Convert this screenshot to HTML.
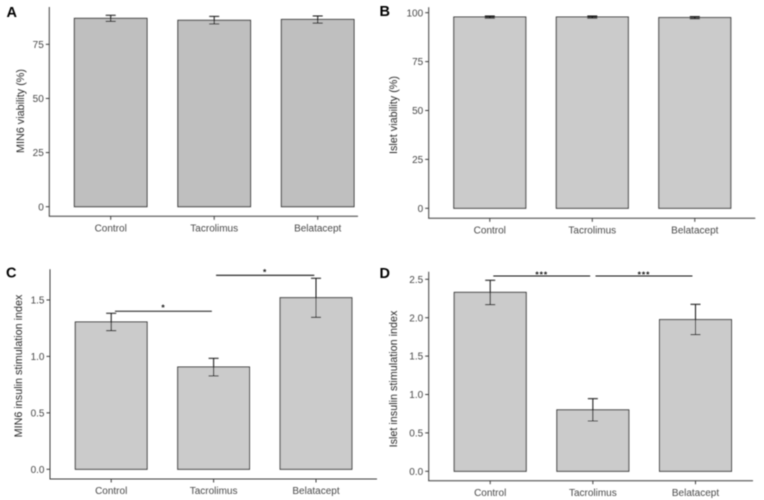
<!DOCTYPE html>
<html>
<head>
<meta charset="utf-8">
<title>Viability and insulin stimulation index</title>
<style>
html,body{margin:0;padding:0;background:#fff;}
body{width:764px;height:500px;overflow:hidden;}
svg{display:block;font-family:"Liberation Sans",sans-serif;}
.tick{font-size:10px;fill:#484848;}
.title{font-size:10.8px;fill:#2a2a2a;}
.letter{font-size:14.5px;font-weight:bold;fill:#000;}
.star{font-size:8.5px;font-weight:bold;fill:#111;letter-spacing:0.9px;}
</style>
</head>
<body>
<svg id="figure" width="764" height="500" viewBox="0 0 764 500" xmlns="http://www.w3.org/2000/svg">
  <defs><filter id="soft" x="-2%" y="-2%" width="104%" height="104%"><feGaussianBlur stdDeviation="0.4"/></filter></defs>
  <g id="plots" filter="url(#soft)">
    <text class="letter" x="6.5" y="17">A</text>
    <text class="letter" x="379.5" y="16">B</text>
    <text class="letter" x="6" y="277.5">C</text>
    <text class="letter" x="379.5" y="278">D</text>
  </g>
</svg>
<script>
const categories = ['Control', 'Tacrolimus', 'Belatacept'];

const viabilityMin6 = [87, 86.1, 86.5];
const viabilityMin6Low = [85.6, 84.4, 84.8];
const viabilityMin6High = [88.4, 87.9, 88.1];
const viabilityMin6Ticks = [0, 25, 50, 75];
const viabilityMin6TickLabels = ['0', '25', '50', '75'];

const viabilityIslet = [97.8, 97.8, 97.5];
const viabilityIsletLow = [97.2, 97.2, 96.9];
const viabilityIsletHigh = [98.3, 98.3, 98.0];
const viabilityIsletTicks = [0, 25, 50, 75, 100];
const viabilityIsletTickLabels = ['0', '25', '50', '75', '100'];

const stimMin6 = [1.305, 0.906, 1.52];
const stimMin6Low = [1.228, 0.827, 1.346];
const stimMin6High = [1.382, 0.983, 1.692];
const stimMin6Ticks = [0, 0.5, 1, 1.5];
const stimMin6TickLabels = ['0.0', '0.5', '1.0', '1.5'];
const stimMin6BracketFrom = [0.037, 1.024];
const stimMin6BracketTo = [0.983, 1.983];
const stimMin6BracketLevel = [1.40, 1.718];
const stimMin6BracketMark = ['*', '*'];

const stimIslet = [2.33, 0.8, 1.975];
const stimIsletLow = [2.17, 0.655, 1.78];
const stimIsletHigh = [2.487, 0.946, 2.174];
const stimIsletTicks = [0, 0.5, 1, 1.5, 2, 2.5];
const stimIsletTickLabels = ['0.0', '0.5', '1.0', '1.5', '2.0', '2.5'];
const stimIsletBracketFrom = [0.03, 1.026];
const stimIsletBracketTo = [0.974, 1.97];
const stimIsletBracketLevel = [2.543, 2.543];
const stimIsletBracketMark = ['***', '***'];

const NS = 'http://www.w3.org/2000/svg';
const root = document.getElementById('plots');

function make(tag, attrs, parent) {
  const node = document.createElementNS(NS, tag);
  for (const k in attrs) node.setAttribute(k, attrs[k]);
  parent.appendChild(node);
  return node;
}

function drawPanel(p) {
  const xScale = function (i) { return p.x0 + i * p.band; };
  const yScale = function (v) { return p.zeroY - v * p.unit; };

  const g = make('g', {}, root);
  
  

  const yAxis = make('line', { x1: p.left, x2: p.left, y1: p.top, y2: p.bottom, stroke: '#3c3c3c', 'stroke-width': 1 }, g);
  
  

  const xAxis = make('line', { x1: p.left - 0.5, x2: p.right, y1: p.bottom, y2: p.bottom, stroke: '#3c3c3c', 'stroke-width': 1 }, g);
  
  

  const yTitle = make('text', { class: 'title', 'text-anchor': 'middle', transform: 'translate(' + p.titleX + ',' + p.titleY + ') rotate(-90)' }, g);
  yTitle.textContent = p.title;
  
  

  p.ticks.forEach(function (t, i) {
    const tick = make('line', { x1: p.left - 3.5, x2: p.left, y1: yScale(t), y2: yScale(t), stroke: '#3c3c3c', 'stroke-width': 1 }, g);
    
    
    const label = make('text', { class: 'tick', x: p.left - 5.5, y: yScale(t) + 3.6, 'text-anchor': 'end' }, g);
    label.textContent = p.tickLabels[i];
    
    
  });

  categories.forEach(function (c, i) {
    const cx = xScale(i);
    const bar = make('rect', { x: cx - p.barW / 2, y: yScale(p.values[i]), width: p.barW, height: p.values[i] * p.unit, fill: p.fill, stroke: '#303030', 'stroke-width': 1 }, g);
    
    

    const stem = make('line', { x1: cx, x2: cx, y1: yScale(p.high[i]), y2: yScale(p.low[i]), stroke: '#111', 'stroke-width': 1 }, g);
    
    
    const capTop = make('line', { x1: cx - 5, x2: cx + 5, y1: yScale(p.high[i]), y2: yScale(p.high[i]), stroke: '#111', 'stroke-width': 1 }, g);
    
    
    const capLow = make('line', { x1: cx - 5, x2: cx + 5, y1: yScale(p.low[i]), y2: yScale(p.low[i]), stroke: '#111', 'stroke-width': 1 }, g);
    
    

    const xTick = make('line', { x1: cx, x2: cx, y1: p.bottom, y2: p.bottom + 3.5, stroke: '#3c3c3c', 'stroke-width': 1 }, g);
    
    
    const xLabel = make('text', { class: 'tick', x: cx, y: p.bottom + 15.2, 'text-anchor': 'middle' }, g);
    xLabel.textContent = c;
    
    
  });

  (p.bracketLevel || []).forEach(function (lvl, i) {
    const x1 = xScale(p.bracketFrom[i]);
    const x2 = xScale(p.bracketTo[i]);
    const bracket = make('line', { x1: x1, x2: x2, y1: yScale(lvl), y2: yScale(lvl), stroke: '#111', 'stroke-width': 1.1 }, g);
    
    
    const star = make('text', { class: 'star', x: (x1 + x2) / 2, y: yScale(lvl) + p.starShift, 'text-anchor': 'middle' }, g);
    star.textContent = p.bracketMark[i];
    
    
  });
}

drawPanel({
  id: 'a', title: 'MIN6 viability (%)', titleX: 24, titleY: 111,
  left: 49.3, right: 358, top: 7, bottom: 216.3,
  x0: 110.7, band: 103.5, barW: 72.7, zeroY: 206.7, unit: 2.165, fill: '#bfbfbf',
  values: viabilityMin6, low: viabilityMin6Low, high: viabilityMin6High,
  ticks: viabilityMin6Ticks, tickLabels: viabilityMin6TickLabels
});
drawPanel({
  id: 'b', title: 'Islet viability (%)', titleX: 397, titleY: 115,
  left: 428.7, right: 755.3, top: 7.3, bottom: 218.3,
  x0: 489.8, band: 102.5, barW: 72, zeroY: 208.3, unit: 1.956, fill: '#cbcbcb',
  values: viabilityIslet, low: viabilityIsletLow, high: viabilityIsletHigh,
  ticks: viabilityIsletTicks, tickLabels: viabilityIsletTickLabels
});
drawPanel({
  id: 'c', title: 'MIN6 insulin stimulation index', titleX: 22, titleY: 366,
  left: 50, right: 377, top: 269.3, bottom: 479,
  x0: 111.2, band: 102.4, barW: 71.8, zeroY: 469.3, unit: 112.9, fill: '#cbcbcb',
  values: stimMin6, low: stimMin6Low, high: stimMin6High,
  ticks: stimMin6Ticks, tickLabels: stimMin6TickLabels,
  bracketFrom: stimMin6BracketFrom, bracketTo: stimMin6BracketTo,
  bracketLevel: stimMin6BracketLevel, bracketMark: stimMin6BracketMark, starShift: -0.5
});
drawPanel({
  id: 'd', title: 'Islet insulin stimulation index', titleX: 397, titleY: 379,
  left: 428.7, right: 753, top: 271.7, bottom: 480.7,
  x0: 490.2, band: 102.65, barW: 72, zeroY: 471.3, unit: 76.8, fill: '#cbcbcb',
  values: stimIslet, low: stimIsletLow, high: stimIsletHigh,
  ticks: stimIsletTicks, tickLabels: stimIsletTickLabels,
  bracketFrom: stimIsletBracketFrom, bracketTo: stimIsletBracketTo,
  bracketLevel: stimIsletBracketLevel, bracketMark: stimIsletBracketMark, starShift: 1.5
});
</script>
</body>
</html>
